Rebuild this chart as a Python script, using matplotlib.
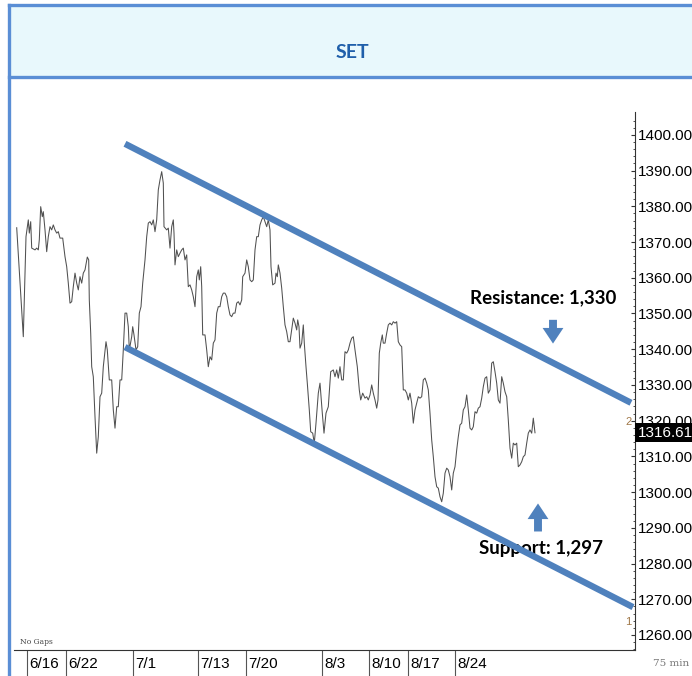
import matplotlib
matplotlib.use("Agg")
import matplotlib.pyplot as plt
from matplotlib.lines import Line2D
from matplotlib.patches import Rectangle, FancyArrowPatch
from matplotlib.transforms import blended_transform_factory

# SET index, 75 min bars (bar position, close)
bars = [2.7, 9.3, 12.0, 14.3, 15.3, 16.7, 17.7, 21.0, 22.7, 24.3, 25.3, 26.7, 28.3, 29.3, 31.0,
        32.7, 34.3, 36.0, 37.7, 39.3, 41.0, 42.7, 44.3, 46.0, 48.7, 51.0, 52.7, 54.3, 56.0, 57.7,
        59.3, 61.0, 62.7, 64.3, 66.0, 67.7, 69.3, 71.0, 73.3, 74.7, 75.3, 76.7, 77.7, 79.3, 81.0,
        82.7, 84.3, 86.0, 87.7, 89.3, 92.0, 93.3, 95.3, 97.7, 99.3, 101.0, 102.7, 104.3, 106.0, 107.7,
        109.3, 111.0, 112.7, 114.3, 115.3, 117.7, 118.7, 120.0, 122.0, 123.7, 125.3, 127.0, 128.7, 131.0, 132.7,
        134.3, 136.0, 137.7, 139.3, 141.0, 142.7, 144.3, 146.0, 147.7,
        149.3, 150.0, 152.7, 154.3, 156.0, 157.7, 159.3, 160.0, 161.0, 162.7, 164.3, 166.0, 167.7, 169.3, 171.0,
        172.7, 174.3, 176.0, 177.7, 179.3, 181.0, 182.7, 184.3, 185.3, 186.7, 187.7, 188.7, 191.0, 192.7, 194.3,
        196.0, 197.7, 199.3, 201.0, 202.7, 204.3, 206.0, 207.7, 209.3, 211.0, 212.7, 214.3, 216.0, 217.7, 219.3,
        221.0, 222.7, 224.3, 226.0, 227.7, 228.7, 231.0, 232.7, 234.3, 236.0, 237.7, 239.3, 241.0, 242.7, 244.3,
        246.0, 247.7, 249.3, 251.0, 252.7, 254.3, 256.0, 257.0, 258.7, 261.0, 262.0, 263.3, 264.3, 266.0, 267.7,
        269.3, 271.0, 272.7, 274.3, 276.0, 277.7, 279.3, 281.0, 282.7, 283.7, 285.0, 286.0, 287.7, 289.3, 290.3,
        292.0, 293.3, 295.3, 296.7, 298.7, 300.3, 302.0, 304.3, 306.0,
        308.3, 310.0, 312.0, 314.3, 316.7, 319.3, 321.0, 322.7, 324.3, 326.0, 327.7, 329.3, 331.0, 332.7, 334.3,
        336.0, 337.7, 339.3, 341.0, 343.3, 345.3, 346.7, 348.7, 351.0, 352.7, 354.3, 356.0, 357.7, 359.3, 361.0,
        362.7, 364.0, 365.3, 366.7, 368.3, 369.3, 371.0, 372.7, 374.3, 376.0, 377.7, 379.3, 381.0, 382.7, 384.3,
        386.0, 387.7, 389.3, 391.0, 392.7, 394.3, 396.0, 397.7, 399.3, 401.0, 402.7, 404.3,
        406.0, 407.7, 409.3, 411.0, 412.7, 414.3, 416.0, 417.7, 419.3, 421.0, 422.7, 424.3, 426.0, 427.7, 429.3,
        431.0, 432.7, 434.3, 436.0, 437.7, 439.3, 441.0, 442.7, 444.3, 446.0, 447.7, 449.3, 451.0, 452.7, 454.3,
        456.0, 457.7, 459.3, 461.0, 462.7, 464.3, 466.0, 467.7, 469.3, 471.0, 472.7, 474.3, 476.0, 477.7, 479.3,
        481.0, 482.7, 484.3, 486.0, 487.7, 489.3, 491.0, 492.7, 494.3, 496.0, 497.7, 499.3, 501.0, 502.7, 504.3,
        506.0, 507.7, 509.3, 511.0, 512.7, 514.3, 516.0, 517.7, 519.3, 521.0]
closes = [1374.0, 1343.5, 1371.5, 1376.2, 1372.5, 1375.7, 1368.3, 1367.8, 1368.3, 1367.8, 1370.6, 1379.9, 1377.1, 1378.5, 1373.4,
          1367.3, 1371.5, 1374.3, 1373.4, 1374.8, 1373.4, 1372.5, 1372.9, 1371.1, 1371.1, 1365.9, 1363.1, 1358.5, 1352.9, 1353.3,
          1357.5, 1361.3, 1358.5, 1356.6, 1360.3, 1358.5, 1361.3, 1362.2, 1365.8, 1365.0, 1353.8, 1344.5, 1335.1, 1332.3, 1321.1,
          1310.9, 1315.5, 1326.7, 1327.7, 1335.1, 1342.1, 1339.8, 1331.4, 1331.4, 1323.0, 1317.9, 1323.9, 1323.9, 1331.4, 1331.4,
          1339.8, 1350.1, 1350.1, 1346.3, 1339.8, 1343.5, 1346.3, 1344.0, 1339.8, 1340.7, 1350.1, 1351.9, 1358.5, 1365.0, 1371.5,
          1375.3, 1375.7, 1374.8, 1376.2, 1372.9, 1376.2, 1384.6, 1387.4, 1389.7,
          1386.5, 1374.3, 1373.4, 1373.9, 1368.3, 1374.3, 1376.2, 1372.5, 1363.6, 1367.8, 1365.9, 1366.9, 1367.8, 1368.3, 1365.0,
          1366.4, 1357.5, 1358.0, 1356.6, 1354.7, 1351.9, 1360.3, 1362.2, 1359.4, 1363.1, 1357.5, 1344.0, 1344.0, 1339.8, 1335.1,
          1337.9, 1337.0, 1341.7, 1342.6, 1350.1, 1351.9, 1351.9, 1354.7, 1355.7, 1355.7, 1354.7, 1351.9, 1349.6, 1349.1, 1350.1,
          1350.1, 1352.9, 1353.3, 1352.4, 1353.8, 1360.3, 1361.3, 1365.0, 1363.1, 1359.4, 1358.9, 1359.4, 1367.8, 1371.5, 1371.5,
          1374.8, 1376.2, 1377.1, 1375.7, 1374.3, 1376.2, 1373.4, 1363.1, 1358.0, 1358.5, 1361.3, 1360.3, 1363.6, 1361.3, 1357.1,
          1351.9, 1346.8, 1344.9, 1342.1, 1342.1, 1345.4, 1348.7, 1347.3, 1345.4, 1348.2, 1346.3, 1340.3, 1341.7, 1346.8, 1341.7,
          1335.1, 1330.5, 1323.0, 1316.9, 1316.5, 1313.7, 1319.3, 1327.7, 1330.5,
          1322.1, 1316.5, 1322.1, 1323.9, 1333.7, 1334.2, 1332.3, 1334.2, 1331.9, 1335.1, 1331.4, 1331.4, 1339.3, 1338.9, 1339.8,
          1341.7, 1343.1, 1343.5, 1339.8, 1335.1, 1328.6, 1325.8, 1327.7, 1326.3, 1326.7, 1325.8, 1327.2, 1330.0, 1327.7, 1325.8,
          1323.5, 1325.8, 1338.9, 1341.7, 1344.0, 1341.7, 1341.7, 1344.5, 1346.8, 1347.3, 1346.8, 1347.7, 1347.3, 1347.7, 1342.1,
          1341.2, 1340.7, 1328.6, 1328.6, 1327.7, 1325.8, 1327.7, 1324.9, 1319.3, 1323.0, 1324.9, 1326.7,
          1326.3, 1326.7, 1331.4, 1331.9, 1330.5, 1328.6, 1322.1, 1314.6, 1309.9, 1304.3, 1301.5, 1301.1, 1298.7, 1297.3, 1299.7,
          1305.3, 1306.7, 1306.2, 1304.3, 1300.6, 1305.3, 1307.1, 1311.8, 1315.5, 1318.8, 1319.3, 1323.0, 1323.9, 1327.2, 1323.0,
          1317.9, 1317.4, 1318.3, 1322.5, 1322.1, 1323.5, 1323.9, 1326.3, 1329.5, 1331.9, 1332.3, 1327.7, 1328.6, 1336.1, 1336.5,
          1333.7, 1330.5, 1325.8, 1324.9, 1332.3, 1330.5, 1328.1, 1326.7, 1320.2, 1312.3, 1309.5, 1313.7, 1313.2, 1313.7, 1307.1,
          1307.6, 1308.5, 1309.9, 1310.4, 1313.7, 1316.5, 1317.4, 1316.5, 1320.7, 1316.61]
last_price = 1316.61

date_pos = [13, 52, 119, 184, 232, 308, 355, 394, 441]
date_labels = ["6/16", "6/22", "7/1", "7/13", "7/20", "8/3", "8/10", "8/17", "8/24"]

# channel lines (bar, price)
upper_x = [111, 617]
upper_y = [1397.5, 1325.0]
lower_x = [111, 619]
lower_y = [1340.6, 1267.8]

resistance = "Resistance: 1,330"
support = "Support: 1,297"

blue = "#4F81BD"
frame = "#5A8ED5"
axfont = "Liberation Sans"

fig = plt.figure(figsize=(6.92, 6.76), dpi=100)
W, H = 692.0, 676.0

# header band + frame
fig.add_artist(Rectangle((9/W, 1-77/H), 1, 72/H, transform=fig.transFigure,
                         facecolor="#E8F8FC", edgecolor="none", zorder=0))
fig.add_artist(Line2D([9/W, 9/W], [0, 1-5/H], color=frame, lw=2.4))
fig.add_artist(Line2D([9/W, 1], [1-5/H, 1-5/H], color=frame, lw=2.4))
fig.add_artist(Line2D([9/W, 1], [1-77/H, 1-77/H], color=frame, lw=2.4))
fig.text(352/W, 1-53/H, "SET", ha="center", va="center", fontsize=14,
         fontweight="bold", family="Lato", color="#1F5FAA")

ax = fig.add_axes([14/W, 26/H, 621/W, 538/H])
ax.plot(bars, closes, color="#505050", lw=0.75)
ax.plot(upper_x, upper_y, color=blue, lw=4.6, solid_capstyle="butt")
ax.plot(lower_x, lower_y, color=blue, lw=4.6, solid_capstyle="butt")

ax.set_xlim(0, 621)
ax.set_ylim(1255.8, 1406.4)

for s in ["left", "top"]:
    ax.spines[s].set_visible(False)
for s in ["right", "bottom"]:
    ax.spines[s].set_color("#333333")
    ax.spines[s].set_linewidth(0.8)

ax.yaxis.tick_right()
yt = list(range(1260, 1401, 10))
ax.set_yticks(yt)
ax.set_yticklabels(["%.2f" % v for v in yt], family=axfont, fontsize=11)
ax.set_yticks(list(range(1256, 1406, 2)), minor=True)
ax.tick_params(axis="y", which="major", direction="in", length=3, pad=2, color="#333333")
ax.tick_params(axis="y", which="minor", direction="in", length=1.5, color="#333333")

ax.set_xticks(date_pos)
ax.set_xticklabels([])
ax.tick_params(axis="x", direction="out", length=19, width=0.8, color="#555555")
tb = blended_transform_factory(ax.transData, ax.transAxes)
for p, lab in zip(date_pos, date_labels):
    ax.text(p + 2, -0.026, lab, transform=tb, ha="left", va="center",
            family=axfont, fontsize=11, clip_on=False)

ty = blended_transform_factory(ax.transAxes, ax.transData)
ax.text(1.004, last_price, "1316.61", transform=ty, ha="left", va="center",
        family=axfont, fontsize=11, color="white", zorder=5, clip_on=False,
        bbox=dict(boxstyle="square,pad=0.15", facecolor="black", edgecolor="none"))
ax.text(0.989, 1319.6, "2", transform=ty, ha="center", va="center", fontsize=8,
        color="#A07848", family=axfont)
ax.text(0.989, 1263.6, "1", transform=ty, ha="center", va="center", fontsize=8,
        color="#A07848", family=axfont)
ax.text(6, 0.015, "No Gaps", transform=tb, fontsize=5.5, color="#444444",
        family="DejaVu Serif", ha="left", va="center")
fig.text(653/W, 1-663/H, "75 min", fontsize=7.5, color="#777777",
         family="DejaVu Serif", ha="left", va="center")

# annotations
ax.text(529, 1354.4, resistance, ha="center", va="center", fontsize=13.5,
        fontweight="bold", family="Lato", color="black")
ax.text(527, 1284.1, support, ha="center", va="center", fontsize=13.5,
        fontweight="bold", family="Lato", color="black", zorder=1)
arr = dict(arrowstyle="simple,head_width=1.0,head_length=0.75,tail_width=0.38",
           color=blue, mutation_scale=15, lw=0)
ax.add_patch(FancyArrowPatch((539, 1349.0), (539, 1340.8), **arr))
ax.add_patch(FancyArrowPatch((524, 1288.2), (524, 1297.6), **arr))

fig.savefig("out.png", dpi=100)
